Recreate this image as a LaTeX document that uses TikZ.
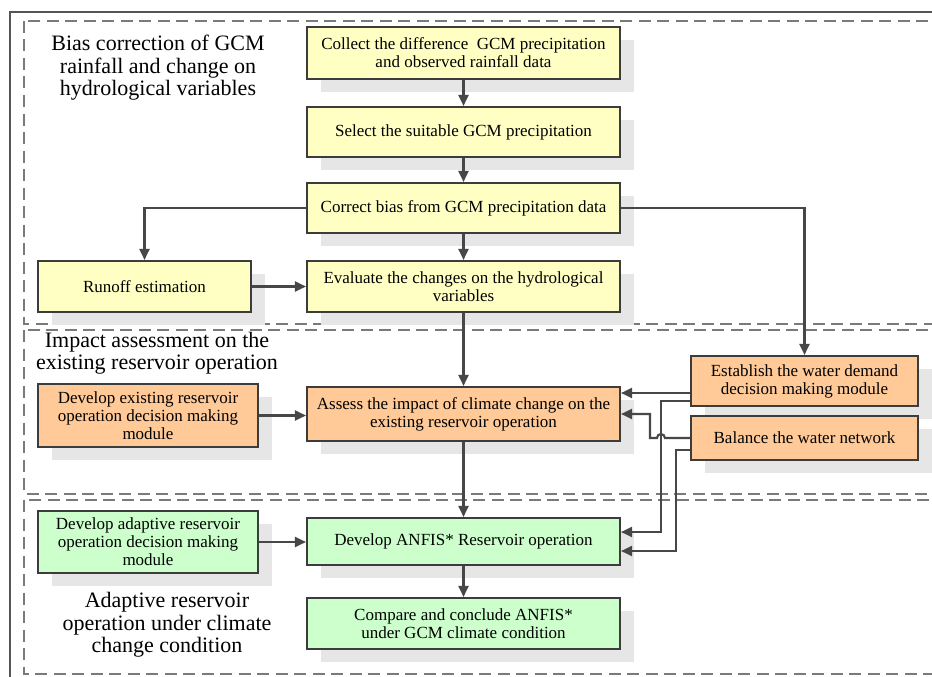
\documentclass[tikz,border=0pt]{standalone}
\usepackage{fontspec}
\setmainfont{Liberation Serif}
\usepackage{xcolor}
\usepackage{tikz}
\usetikzlibrary{arrows.meta,calc,shadows}
\definecolor{boxline}{HTML}{3C3C3C}
\definecolor{wire}{HTML}{474747}
\definecolor{zoneline}{HTML}{7A7A7A}
\definecolor{frameline}{HTML}{555555}
\definecolor{paleyellow}{HTML}{FFFFC4}
\definecolor{paleorange}{HTML}{FFCA98}
\definecolor{palegreen}{HTML}{CCFFCC}
\definecolor{shade}{HTML}{E6E6E6}
\tikzset{
  box/.style  ={draw=boxline,line width=2.1pt,align=center,inner sep=3pt,
                font=\fontsize{17}{18}\selectfont,
                drop shadow={shadow xshift=14pt,shadow yshift=-13pt,fill=shade,opacity=1}},
  yel/.style  ={box,fill=paleyellow},
  org/.style  ={box,fill=paleorange},
  grn/.style  ={box,fill=palegreen},
  note/.style ={align=center,inner sep=0pt,font=\fontsize{22}{22.5}\selectfont},
  zone/.style ={draw=zoneline,line width=1.6pt,dash pattern=on 12pt off 6.5pt},
  frame/.style={draw=frameline,line width=2.6pt},
  flow/.style ={-{Triangle[length=11pt,width=10pt]},line width=2.1pt,draw=wire}
}
\begin{document}
\begin{tikzpicture}[x=1pt,y=-1pt]
    \useasboundingbox (0,0) rectangle (932,677);
    \fill[white] (0,0) rectangle (932,677);
    \clip (0,0) rectangle (932,677);
    \draw[frame] (10,700) -- (10,12) -- (950,12);
    \draw[zone] (24,21) rectangle (950,324);
    \draw[zone] (24,330) rectangle (950,494);
    \draw[zone] (24,500) rectangle (950,674);
    \node[note] (biastitle) at (158,68) {Bias correction of GCM\\rainfall and change on\\hydrological variables};
    \node[note] (impacttitle) at (157,353) {Impact assessment on the\\existing reservoir operation};
    \node[note] (adapttitle) at (167,625) {Adaptive reservoir\\operation under climate\\change condition};
    \node[yel,minimum width=313pt,minimum height=52pt] (collect) at (463.5,53) {Collect the difference~ GCM precipitation\\and observed rainfall data};
    \node[yel,minimum width=313pt,minimum height=50pt] (select) at (463.5,132) {Select the suitable GCM precipitation};
    \node[yel,minimum width=313pt,minimum height=50pt] (correct) at (463.5,208) {Correct bias from GCM precipitation data};
    \node[yel,minimum width=313pt,minimum height=51pt] (evaluate) at (463.5,286.5) {Evaluate the changes on the hydrological\\variables};
    \node[yel,minimum width=213pt,minimum height=51pt] (runoff) at (144.5,286.5) {Runoff estimation};
    \node[org,minimum width=220pt,minimum height=63pt] (devexist) at (148,415.5) {Develop existing reservoir\\operation decision making\\module};
    \node[org,minimum width=313pt,minimum height=54pt] (assess) at (463.5,414) {Assess the impact of climate change on the\\existing reservoir operation};
    \node[org,minimum width=227pt,minimum height=50pt] (demand) at (804.5,381) {Establish the water demand\\decision making module};
    \node[org,minimum width=227pt,minimum height=44pt] (balance) at (804.5,438) {Balance the water network};
    \node[grn,minimum width=220pt,minimum height=62pt] (devadapt) at (148,542) {Develop adaptive reservoir\\operation decision making\\module};
    \node[grn,minimum width=313pt,minimum height=47pt] (anfis) at (463.5,541.5) {Develop ANFIS* Reservoir operation};
    \node[grn,minimum width=313pt,minimum height=51pt] (compare) at (463.5,623.5) {Compare and conclude ANFIS*\\under GCM climate condition};
    \coordinate (dm1) at ($(demand.west)+(0,12)$);
    \coordinate (dm2) at ($(demand.west)+(0,20)$);
    \coordinate (bn2) at ($(balance.west)+(0,12)$);
    \coordinate (an1) at ($(anfis.east)+(0,-9.5)$);
    \coordinate (an2) at ($(anfis.east)+(0,9.5)$);
    \draw[flow] (collect) -- (select);
    \draw[flow] (select) -- (correct);
    \draw[flow] (correct) -- (evaluate);
    \draw[flow] (evaluate) -- (assess);
    \draw[flow] (assess) -- (anfis);
    \draw[flow] (anfis) -- (compare);
    \draw[flow] (correct) -| (runoff);
    \draw[flow] (correct) -| (demand);
    \draw[flow] (runoff) -- (evaluate);
    \draw[flow] (devexist) -- (devexist -| assess.west);
    \draw[flow] (devadapt) -- (devadapt -| anfis.west);
    \draw[flow] (dm1) -- (dm1 -| assess.east);
    \draw[flow] (dm2) -- ++(-29,0) |- (an1);
    \draw[flow] (balance.west) -- ++(-25,0) arc[start angle=0,end angle=-180,radius=4] -- ++(-7,0) |- (assess.east);
    \draw[flow] (bn2) -- ++(-14,0) |- (an2);
\end{tikzpicture}
\end{document}
